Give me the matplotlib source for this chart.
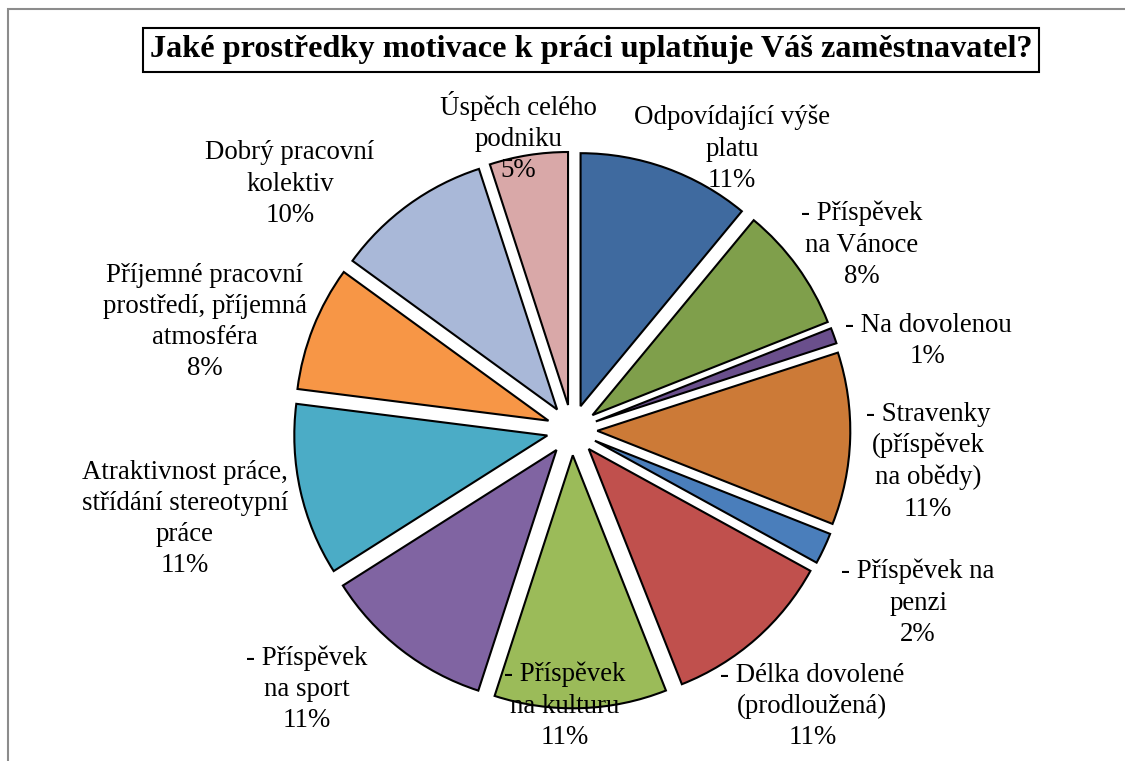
import numpy as np
import matplotlib.pyplot as plt
from matplotlib.patches import Rectangle

plt.rcParams['font.family'] = ['Liberation Serif', 'DejaVu Serif']

# data
labels = [
    'Odpovídající výše\nplatu',
    '- Příspěvek\nna Vánoce',
    '- Na dovolenou',
    '- Stravenky\n(příspěvek\nna obědy)',
    '- Příspěvek na\npenzi',
    '- Délka dovolené\n(prodloužená)',
    '- Příspěvek\nna kulturu',
    '- Příspěvek\nna sport',
    'Atraktivnost práce,\nstřídání stereotypní\npráce',
    'Příjemné pracovní\nprostředí, příjemná\natmosféra',
    'Dobrý pracovní\nkolektiv',
    'Úspěch celého\npodniku',
]
values = [11, 8, 1, 11, 2, 11, 11, 11, 11, 8, 10, 5]
colors = ['#3F6A9F', '#7F9F4B', '#6A4F8C', '#CC7A37', '#4A7EBB', '#C0504D',
          '#9BBB59', '#8064A2', '#4BACC6', '#F79646', '#A9B8D8', '#D9A8A8']

# label placement (in pie radius units)
label_xy = [(0.632, 1.119), (1.146, 0.740), (1.407, 0.360), (1.407, -0.117),
            (1.368, -0.675), (0.950, -1.085), (-0.028, -1.082), (-1.047, -1.016),
            (-1.530, -0.344), (-1.451, 0.435), (-1.115, 0.980), (-0.213, 1.166)]

W, H = 1125, 761
fig = plt.figure(figsize=(W / 100, H / 100), dpi=100)

# outer chart frame (cut off at right and bottom)
fig.add_artist(Rectangle((8 / W, -0.1), 1.2, 1 - 9 / H + 0.1,
                         transform=fig.transFigure, fill=False,
                         edgecolor='#8C8C8C', linewidth=1.5))

# pie radius 253 px, centred at (572, 430) from top-left
R = 253
cx, cy = 572, 430
ax = fig.add_axes([0, 0, 1, 1])

wedges, _ = ax.pie(values, colors=colors, startangle=90, counterclock=False,
                   explode=[0.1] * len(values), radius=1,
                   wedgeprops=dict(edgecolor='black', linewidth=1.5))
ax.set_xlim(-cx / R, (W - cx) / R)
ax.set_ylim((cy - H) / R, cy / R)
ax.set_aspect('equal')
ax.axis('off')

for lab, v, (x, y) in zip(labels, values, label_xy):
    ax.text(x, y - 0.008, f'{lab}\n{v}%', ha='center', va='center', fontsize=19.4,
            linespacing=1.33, color='black')

fig.text(591 / W, 1 - 50 / H,
         'Jaké prostředky motivace k práci uplatňuje Váš zaměstnavatel?',
         ha='center', va='center', fontsize=23.2, fontweight='bold',
         bbox=dict(boxstyle='square,pad=0.22', facecolor='white',
                   edgecolor='black', linewidth=1.5))

fig.savefig('out.png', dpi=100)
